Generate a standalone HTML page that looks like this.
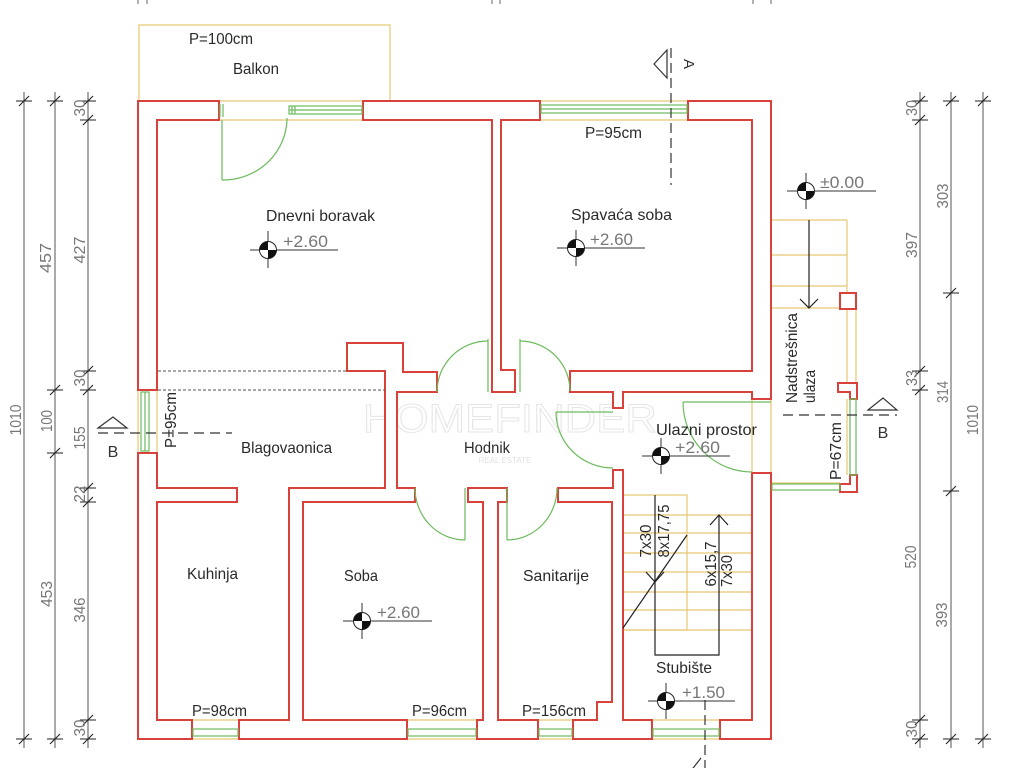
<!DOCTYPE html>
<html><head><meta charset="utf-8"><style>
html,body{margin:0;padding:0;background:#fff;}
svg{display:block;}
text{font-family:"Liberation Sans","DejaVu Sans",sans-serif;}
</style></head><body>
<svg width="1024" height="768" viewBox="0 0 1024 768" xmlns="http://www.w3.org/2000/svg">
<rect width="1024" height="768" fill="#fff"/>

<!-- watermark -->
<text x="363" y="432" font-size="40" textLength="294" lengthAdjust="spacingAndGlyphs" fill="none" stroke="#e6e6e6" stroke-width="1">HOMEFINDER</text>
<text x="505" y="463" font-size="8" text-anchor="middle" fill="#e2e2e2">REAL ESTATE</text>

<!-- top partial dim ticks -->
<g stroke="#666" stroke-width="1">
<line x1="138" y1="0" x2="138" y2="4"/><line x1="147" y1="0" x2="147" y2="4"/>
<line x1="492" y1="0" x2="492" y2="4"/><line x1="500" y1="0" x2="500" y2="4"/>
<line x1="753" y1="0" x2="753" y2="4"/><line x1="771" y1="0" x2="771" y2="4"/>
</g>

<!-- yellow lines -->
<g stroke="#e6c872" stroke-width="1.2" fill="none">
<rect x="139" y="25" width="251" height="76"/>
<line x1="219" y1="120" x2="363" y2="120"/>
<line x1="540" y1="101" x2="688" y2="101"/><line x1="540" y1="120" x2="688" y2="120"/>
<line x1="138" y1="390" x2="138" y2="453"/><line x1="157" y1="390" x2="157" y2="453"/>
<line x1="192" y1="720" x2="239" y2="720"/><line x1="192" y1="739" x2="239" y2="739"/>
<line x1="407" y1="720" x2="477" y2="720"/><line x1="407" y1="739" x2="477" y2="739"/>
<line x1="538" y1="720" x2="573" y2="720"/><line x1="538" y1="739" x2="573" y2="739"/>
<line x1="652" y1="720" x2="720" y2="720"/><line x1="652" y1="739" x2="720" y2="739"/>
<!-- stairs -->
<rect x="623" y="495" width="64" height="135"/>
<line x1="623" y1="515" x2="752" y2="515"/>
<line x1="623" y1="533" x2="752" y2="533"/>
<line x1="623" y1="553" x2="752" y2="553"/>
<line x1="623" y1="572" x2="752" y2="572"/>
<line x1="623" y1="592" x2="752" y2="592"/>
<line x1="623" y1="610" x2="752" y2="610"/>
<line x1="623" y1="630" x2="752" y2="630"/>
<!-- porch -->
<line x1="771" y1="220" x2="847" y2="220"/>
<line x1="771" y1="255" x2="847" y2="255"/>
<line x1="771" y1="286" x2="847" y2="286"/>
<line x1="771" y1="308" x2="840" y2="308"/>
<line x1="847" y1="220" x2="847" y2="293"/>
<line x1="847" y1="309" x2="847" y2="383"/>
<line x1="856" y1="309" x2="856" y2="383"/>
<line x1="847" y1="399" x2="847" y2="475"/>
<line x1="771" y1="483" x2="840" y2="483"/>
<line x1="771" y1="399" x2="771" y2="473"/>
<line x1="752" y1="399" x2="752" y2="473"/>
</g>

<!-- walls -->
<g fill="#fff" stroke="#d9413b" stroke-width="2" stroke-linejoin="miter">
<polygon points="157,390 157,120 219,120 219,101 138,101 138,390"/>
<polygon points="157,453 138,453 138,739 192,739 192,720 157,720 157,502 237,502 237,488 157,488"/>
<polygon points="239,739 239,720 289,720 289,488 385,488 385,371 347,371 347,343 403,343 403,372 437,372 437,392 397,392 397,488 415,488 415,502 303,502 303,720 407,720 407,739"/>
<polygon points="468,488 507,488 507,502 498,502 498,720 538,720 538,739 477,739 477,720 483,720 483,502 468,502"/>
<polygon points="558,488 613,488 613,470 623,470 623,720 652,720 652,739 573,739 573,720 597,720 597,702 612,702 612,502 558,502"/>
<polygon points="720,739 720,720 752,720 752,473 771,473 771,739"/>
<polygon points="363,101 540,101 540,120 501,120 501,370 515,370 515,392 492,392 492,120 363,120"/>
<polygon points="688,101 771,101 771,399 752,399 752,392 623,392 623,408 613,408 613,392 570,392 570,371 752,371 752,120 688,120"/>
<!-- porch columns -->
<rect x="840" y="293" width="16" height="16"/>
<polygon points="838,383 857,383 857,399 850,399 850,392 838,392"/>
<polygon points="840,492 857,492 857,475 850,475 850,484 840,484"/>
</g>

<!-- dashed interior lines -->
<g stroke="#555" stroke-width="1" stroke-dasharray="3 2">
<line x1="158" y1="371" x2="347" y2="371"/>
<line x1="158" y1="390" x2="385" y2="390"/>
</g>

<!-- windows (green) -->
<g stroke="#6cbb5c" stroke-width="1.2" fill="none">
<rect x="289" y="106" width="73" height="8"/><line x1="289" y1="110" x2="362" y2="110"/>
<line x1="292" y1="106" x2="292" y2="114"/><line x1="295" y1="106" x2="295" y2="114"/>
<line x1="220" y1="104" x2="220" y2="117"/><line x1="223" y1="104" x2="223" y2="117"/>
<rect x="541" y="105" width="146" height="8"/><line x1="541" y1="109" x2="687" y2="109"/>
<rect x="141" y="392" width="8" height="59"/><line x1="145" y1="392" x2="145" y2="451"/>
<rect x="193" y="729" width="45" height="7"/>
<rect x="408" y="729" width="68" height="7"/>
<rect x="539" y="729" width="33" height="7"/>
<rect x="653" y="729" width="66" height="7"/>
<rect x="772" y="484" width="68" height="6"/>
<rect x="850" y="399" width="6" height="76"/>
<!-- doors -->
<line x1="222" y1="120" x2="222" y2="180"/>
<path d="M222,180 A64,62 0 0 0 287,118"/>
<line x1="488" y1="339" x2="488" y2="392"/>
<path d="M437,392 A51,51 0 0 1 488,341"/>
<line x1="520" y1="339" x2="520" y2="392"/>
<path d="M520,341 A50,50 0 0 1 570,391"/>
<line x1="556" y1="412" x2="613" y2="412"/>
<path d="M556,412 A57,56 0 0 0 613,468"/>
<line x1="465" y1="488" x2="465" y2="540"/>
<path d="M415,488 A50,52 0 0 0 465,540"/>
<line x1="507" y1="488" x2="507" y2="540"/>
<path d="M507,540 A50,52 0 0 0 557,488"/>
<line x1="683" y1="402" x2="771" y2="402"/>
<path d="M683,402 A69,70 0 0 0 752,472"/>
</g>

<!-- stair arrows -->
<g stroke="#222" stroke-width="1.2" fill="none">
<polyline points="655,495 655,655 719,655 719,515"/>
<polyline points="710,525 719,515 728,525"/>
<polyline points="646,572 655,582 664,572"/>
<line x1="623" y1="628" x2="687" y2="535"/>
<line x1="809" y1="220" x2="809" y2="308"/>
<polyline points="800,299 809,308 818,299"/>
</g>

<!-- section lines -->
<g stroke="#333" stroke-width="1.2" fill="none">
<line x1="671" y1="48" x2="671" y2="185" stroke-dasharray="10 5"/>
<polygon points="667,50 654,64 667,78" fill="#fff"/>
<line x1="98" y1="433" x2="232" y2="433" stroke-dasharray="10 6"/>
<polygon points="98,428 113,417 127,428" fill="#fff"/>
<line x1="783" y1="415" x2="897" y2="415" stroke-dasharray="10 6"/>
<polygon points="868,410 883,398 897,410" fill="#fff"/>
<line x1="705" y1="700" x2="705" y2="768" stroke-dasharray="10 5"/>
<polyline points="701,758 690,772"/>
</g>
<text transform="translate(684,64) rotate(90)" font-size="15" text-anchor="middle" fill="#333">A</text>
<text x="113" y="457" font-size="16" text-anchor="middle" fill="#333">B</text>
<text x="883" y="438" font-size="16" text-anchor="middle" fill="#333">B</text>

<!-- dimension lines -->
<g stroke="#555" stroke-width="1">
<line x1="24" y1="92" x2="24" y2="748"/>
<line x1="55" y1="92" x2="55" y2="748"/>
<line x1="88" y1="92" x2="88" y2="748"/>
<line x1="920" y1="92" x2="920" y2="748"/>
<line x1="951" y1="92" x2="951" y2="748"/>
<line x1="983" y1="92" x2="983" y2="748"/>
</g>
<g stroke="#222" stroke-width="1.1">
<!-- ticks: horizontal + slash -->
<path d="M16,101h16M19,106l10,-10 M16,739h16M19,744l10,-10
M47,101h16M50,106l10,-10 M47,390h16M50,395l10,-10 M47,453h16M50,458l10,-10 M47,739h16M50,744l10,-10
M80,101h16M83,106l10,-10 M80,120h16M83,125l10,-10 M80,371h16M83,376l10,-10 M80,390h16M83,395l10,-10
M80,488h16M83,493l10,-10 M80,502h16M83,507l10,-10 M80,720h16M83,725l10,-10 M80,739h16M83,744l10,-10
M912,101h16M915,106l10,-10 M912,120h16M915,125l10,-10 M912,371h16M915,376l10,-10 M912,390h16M915,395l10,-10
M912,720h16M915,725l10,-10 M912,739h16M915,744l10,-10
M943,101h16M946,106l10,-10 M943,293h16M946,298l10,-10 M943,491h16M946,496l10,-10 M943,739h16M946,744l10,-10
M975,101h16M978,106l10,-10 M975,739h16M978,744l10,-10" fill="none"/>
</g>

<!-- dimension texts (rotated) -->
<g font-size="16" fill="#777" text-anchor="middle">
<text transform="translate(15,420) rotate(-90)" y="6" textLength="31" lengthAdjust="spacingAndGlyphs">1010</text>
<text transform="translate(45,258) rotate(-90)" y="6" textLength="30" lengthAdjust="spacingAndGlyphs">457</text>
<text transform="translate(46,421) rotate(-90)" y="6" textLength="22" lengthAdjust="spacingAndGlyphs">100</text>
<text transform="translate(46,594) rotate(-90)" y="6" textLength="26" lengthAdjust="spacingAndGlyphs">453</text>
<text transform="translate(79,108) rotate(-90)" y="6" textLength="17" lengthAdjust="spacingAndGlyphs">30</text>
<text transform="translate(79,250) rotate(-90)" y="6" textLength="27" lengthAdjust="spacingAndGlyphs">427</text>
<text transform="translate(79,378) rotate(-90)" y="6" textLength="17" lengthAdjust="spacingAndGlyphs">30</text>
<text transform="translate(79,438) rotate(-90)" y="6" textLength="23" lengthAdjust="spacingAndGlyphs">155</text>
<text transform="translate(79,494) rotate(-90)" y="6" textLength="17" lengthAdjust="spacingAndGlyphs">22</text>
<text transform="translate(79,610) rotate(-90)" y="6" textLength="25" lengthAdjust="spacingAndGlyphs">346</text>
<text transform="translate(79,728) rotate(-90)" y="6" textLength="17" lengthAdjust="spacingAndGlyphs">30</text>
<text transform="translate(911,108) rotate(-90)" y="6" textLength="16" lengthAdjust="spacingAndGlyphs">30</text>
<text transform="translate(911,245) rotate(-90)" y="6" textLength="26" lengthAdjust="spacingAndGlyphs">397</text>
<text transform="translate(942,196) rotate(-90)" y="6" textLength="25" lengthAdjust="spacingAndGlyphs">303</text>
<text transform="translate(911,378) rotate(-90)" y="6" textLength="16" lengthAdjust="spacingAndGlyphs">33</text>
<text transform="translate(942,392) rotate(-90)" y="6" textLength="22" lengthAdjust="spacingAndGlyphs">314</text>
<text transform="translate(972,420) rotate(-90)" y="6" textLength="30" lengthAdjust="spacingAndGlyphs">1010</text>
<text transform="translate(910,557) rotate(-90)" y="6" textLength="23" lengthAdjust="spacingAndGlyphs">520</text>
<text transform="translate(941,615) rotate(-90)" y="6" textLength="25" lengthAdjust="spacingAndGlyphs">393</text>
<text transform="translate(911,729) rotate(-90)" y="6" textLength="17" lengthAdjust="spacingAndGlyphs">30</text>
</g>

<!-- level markers -->
<g stroke="#333" stroke-width="1" fill="none">
<line x1="268" y1="231" x2="268" y2="268"/><line x1="250" y1="250" x2="338" y2="250"/>
<line x1="576" y1="230" x2="576" y2="266"/><line x1="557" y1="248" x2="645" y2="248"/>
<line x1="806" y1="173" x2="806" y2="209"/><line x1="787" y1="191" x2="876" y2="191"/>
<line x1="661" y1="438" x2="661" y2="474"/><line x1="642" y1="456" x2="730" y2="456"/>
<line x1="362" y1="603" x2="362" y2="639"/><line x1="343" y1="621" x2="432" y2="621"/>
<line x1="666" y1="683" x2="666" y2="719"/><line x1="648" y1="701" x2="735" y2="701"/>
</g>
<g stroke="#222" stroke-width="1">
<circle cx="268" cy="250" r="8.5" fill="#fff"/>
<circle cx="576" cy="248" r="8.5" fill="#fff"/>
<circle cx="806" cy="191" r="8.5" fill="#fff"/>
<circle cx="661" cy="456" r="8.5" fill="#fff"/>
<circle cx="362" cy="621" r="8.5" fill="#fff"/>
<circle cx="666" cy="701" r="8.5" fill="#fff"/>
</g>
<g fill="#111">
<path d="M259.5,250A8.5,8.5 0 0 1 268,241.5L268,250Z M276.5,250A8.5,8.5 0 0 1 268,258.5L268,250Z"/>
<path d="M567.5,248A8.5,8.5 0 0 1 576,239.5L576,248Z M584.5,248A8.5,8.5 0 0 1 576,256.5L576,248Z"/>
<path d="M797.5,191A8.5,8.5 0 0 1 806,182.5L806,191Z M814.5,191A8.5,8.5 0 0 1 806,199.5L806,191Z"/>
<path d="M652.5,456A8.5,8.5 0 0 1 661,447.5L661,456Z M669.5,456A8.5,8.5 0 0 1 661,464.5L661,456Z"/>
<path d="M353.5,621A8.5,8.5 0 0 1 362,612.5L362,621Z M370.5,621A8.5,8.5 0 0 1 362,629.5L362,621Z"/>
<path d="M657.5,701A8.5,8.5 0 0 1 666,692.5L666,701Z M674.5,701A8.5,8.5 0 0 1 666,709.5L666,701Z"/>
</g>
<g font-size="17" fill="#777">
<text x="283" y="247" textLength="45" lengthAdjust="spacingAndGlyphs">+2.60</text>
<text x="590" y="245" textLength="43" lengthAdjust="spacingAndGlyphs">+2.60</text>
<text x="820" y="188" textLength="44" lengthAdjust="spacingAndGlyphs">±0.00</text>
<text x="675" y="453" textLength="45" lengthAdjust="spacingAndGlyphs">+2.60</text>
<text x="377" y="618" textLength="43" lengthAdjust="spacingAndGlyphs">+2.60</text>
<text x="682" y="698" textLength="43" lengthAdjust="spacingAndGlyphs">+1.50</text>
</g>

<!-- room labels -->
<g font-size="16" fill="#2a2a2a">
<text x="189" y="44" textLength="64" lengthAdjust="spacingAndGlyphs">P=100cm</text>
<text x="233" y="74" textLength="46" lengthAdjust="spacingAndGlyphs">Balkon</text>
<text x="266" y="221" textLength="109" lengthAdjust="spacingAndGlyphs">Dnevni  boravak</text>
<text x="571" y="220" textLength="101" lengthAdjust="spacingAndGlyphs">Spavaća  soba</text>
<text x="585" y="138" textLength="57" lengthAdjust="spacingAndGlyphs">P=95cm</text>
<text x="241" y="453" textLength="91" lengthAdjust="spacingAndGlyphs">Blagovaonica</text>
<text x="464" y="453" textLength="46" lengthAdjust="spacingAndGlyphs">Hodnik</text>
<text x="656" y="435" textLength="101" lengthAdjust="spacingAndGlyphs">Ulazni  prostor</text>
<text x="187" y="579" textLength="51" lengthAdjust="spacingAndGlyphs">Kuhinja</text>
<text x="344" y="581" textLength="34" lengthAdjust="spacingAndGlyphs">Soba</text>
<text x="523" y="581" textLength="66" lengthAdjust="spacingAndGlyphs">Sanitarije</text>
<text x="192" y="716" textLength="55" lengthAdjust="spacingAndGlyphs">P=98cm</text>
<text x="412" y="716" textLength="55" lengthAdjust="spacingAndGlyphs">P=96cm</text>
<text x="522" y="716" textLength="64" lengthAdjust="spacingAndGlyphs">P=156cm</text>
<text x="656" y="673" textLength="56" lengthAdjust="spacingAndGlyphs">Stubište</text>
<!-- rotated -->
<text transform="translate(170,420) rotate(-90)" y="6" text-anchor="middle" textLength="56" lengthAdjust="spacingAndGlyphs">P=95cm</text>
<text transform="translate(797,403) rotate(-90)" text-anchor="start" textLength="90" lengthAdjust="spacingAndGlyphs">Nadstrešnica</text>
<text transform="translate(815,403) rotate(-90)" text-anchor="start" textLength="33" lengthAdjust="spacingAndGlyphs">ulaza</text>
<text transform="translate(835,451) rotate(-90)" y="6" text-anchor="middle" textLength="58" lengthAdjust="spacingAndGlyphs">P=67cm</text>
<text transform="translate(645,541) rotate(-90)" y="6" text-anchor="middle" textLength="33" lengthAdjust="spacingAndGlyphs">7x30</text>
<text transform="translate(663,531) rotate(-90)" y="6" text-anchor="middle" textLength="53" lengthAdjust="spacingAndGlyphs">8x17,75</text>
<text transform="translate(710,564) rotate(-90)" y="6" text-anchor="middle" textLength="45" lengthAdjust="spacingAndGlyphs">6x15,7</text>
<text transform="translate(726,571) rotate(-90)" y="6" text-anchor="middle" textLength="32" lengthAdjust="spacingAndGlyphs">7x30</text>
</g>
</svg>
</body></html>
